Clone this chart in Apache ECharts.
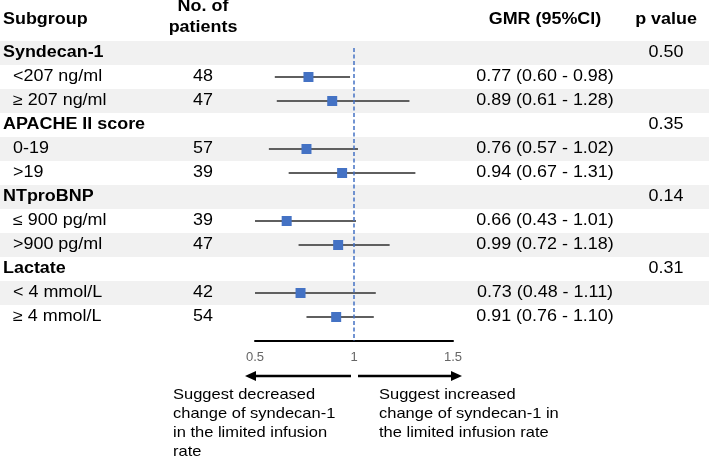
<!DOCTYPE html>
<html><head><meta charset="utf-8">
<script src="https://cdn.jsdelivr.net/npm/echarts@6/dist/echarts.min.js"></script>
<style>html,body{margin:0;padding:0;background:#fff}#c{width:709px;height:458px}</style>
</head><body><div id="c"></div>
<script>
// ---- data ----
const rowLabels = ['Syndecan-1', '<207 ng/ml', '\u2265 207 ng/ml', 'APACHE II score', '0-19', '>19',
  'NTproBNP', '\u2264 900 pg/ml', '>900 pg/ml', 'Lactate', '< 4 mmol/L', '\u2265 4 mmol/L'];
const isGroup = [true, false, false, true, false, false, true, false, false, true, false, false];
const patients = ['', '48', '47', '', '57', '39', '', '39', '47', '', '42', '54'];
const gmrText = ['', '0.77 (0.60 - 0.98)', '0.89 (0.61 - 1.28)', '', '0.76 (0.57 - 1.02)', '0.94 (0.67 - 1.31)',
  '', '0.66 (0.43 - 1.01)', '0.99 (0.72 - 1.18)', '', '0.73 (0.48 - 1.11)', '0.91 (0.76 - 1.10)'];
const pValues = ['0.50', '', '', '0.35', '', '', '0.14', '', '', '0.31', '', ''];
const estimate = [null, 0.77, 0.89, null, 0.76, 0.94, null, 0.66, 0.92, null, 0.73, 0.91];
const lower = [null, 0.60, 0.61, null, 0.57, 0.67, null, 0.43, 0.72, null, 0.48, 0.76];
const upper = [null, 0.98, 1.28, null, 1.02, 1.31, null, 1.01, 1.18, null, 1.11, 1.10];
const xTicks = [0.5, 1, 1.5];
const headers = { subgroup: 'Subgroup', patients: 'No. of\npatients', gmr: 'GMR (95%CI)', p: 'p value' };
const noteLeft = 'Suggest decreased\nchange of syndecan-1\nin the limited infusion\nrate';
const noteRight = 'Suggest increased\nchange of syndecan-1 in\nthe limited infusion rate';
const refValue = 1;

// ---- layout / style ----
const FONT = "'Liberation Sans', Arial, Helvetica, sans-serif";
const SX = 1.12;
const xMin = xTicks[0], xMax = xTicks[xTicks.length - 1];
const nRows = rowLabels.length;
const ROW_H = 24, TABLE_TOP = 41;
const PLOT_TOP = 48, AXIS_Y = 341;
const rowMin = -((TABLE_TOP + ROW_H / 2) - PLOT_TOP) / ROW_H;
const rowMax = (AXIS_Y - (TABLE_TOP + ROW_H / 2)) / ROW_H;

const forestData = [];
for (let i = 0; i < nRows; i++) {
  if (estimate[i] != null) forestData.push([estimate[i], lower[i], upper[i], i]);
}

const chart = echarts.init(document.getElementById('c'), null, { renderer: 'canvas' });
chart.setOption({
  animation: false,
  backgroundColor: '#fff',
  grid: [
    { left: 0, right: 0, top: TABLE_TOP, height: ROW_H * nRows },
    { left: 255, width: 198, top: PLOT_TOP, height: AXIS_Y - PLOT_TOP }
  ],
  xAxis: [
    { gridIndex: 0, type: 'value', min: 0, max: 1, show: false },
    { gridIndex: 1, type: 'value', min: xMin, max: xMax, interval: 0.5, position: 'bottom',
      axisLine: { show: true, onZero: false, lineStyle: { color: '#000', width: 2 } },
      axisTick: { show: false }, splitLine: { show: false },
      axisLabel: { color: '#666', fontSize: 13, fontFamily: FONT, margin: 10,
        formatter: v => String(v) } }
  ],
  yAxis: [
    { gridIndex: 0, type: 'category', data: rowLabels, inverse: true,
      axisLine: { show: false }, axisTick: { show: false }, axisLabel: { show: false },
      splitLine: { show: false },
      splitArea: { show: true, areaStyle: { color: ['#f1f1f1', '#ffffff'] } } },
    { gridIndex: 1, type: 'value', inverse: true, min: rowMin, max: rowMax, show: false }
  ],
  series: [{
    type: 'custom',
    xAxisIndex: 1, yAxisIndex: 1,
    data: forestData,
    encode: { x: [0, 1, 2], y: 3 },
    renderItem: function (params, api) {
      const est = api.value(0), lo = api.value(1), hi = api.value(2), row = api.value(3);
      const pE = api.coord([est, row]);
      const pL = api.coord([Math.max(lo, xMin), row]);
      const pH = api.coord([Math.min(hi, xMax), row]);
      return { type: 'group', children: [
        { type: 'line', shape: { x1: pL[0], y1: pL[1], x2: pH[0], y2: pH[1] },
          style: { stroke: '#5f5f5f', lineWidth: 2 } },
        { type: 'rect', shape: { x: pE[0] - 5, y: pE[1] - 5, width: 10, height: 10 },
          style: { fill: '#4472C4' } }
      ] };
    },
    markLine: { silent: true, symbol: 'none', label: { show: false },
      lineStyle: { color: '#4472C4', type: [4, 2.5], width: 1.5 },
      data: [{ xAxis: refValue }] },
    z: 3
  }]
});

// ---- table text ----
function txt(x, y, text, o) {
  o = o || {};
  const st = {
    text: text, fill: o.color || '#000',
    fontSize: o.size || 16, fontFamily: FONT, fontWeight: o.bold ? 'bold' : 'normal',
    align: o.align || 'left', textAlign: o.align || 'left',
    verticalAlign: o.va || 'middle', textVerticalAlign: o.va || 'middle'
  };
  if (o.lh) st.lineHeight = o.lh;
  return { type: 'text', x: x, y: y, scaleX: o.sx || SX, silent: true, z: 10, style: st };
}
const els = [];
const COL_LABEL = 3, COL_INDENT = 13, COL_N = 203, COL_GMR = 545, COL_P = 666;
els.push(txt(COL_LABEL, 20, headers.subgroup, { bold: true }));
const hp = headers.patients.split('\n');
els.push(txt(COL_N, 7, hp[0], { bold: true, align: 'center' }));
els.push(txt(COL_N, 28, hp[1], { bold: true, align: 'center' }));
els.push(txt(COL_GMR, 20, headers.gmr, { bold: true, align: 'center' }));
els.push(txt(COL_P, 20, headers.p, { bold: true, align: 'center' }));
for (let i = 0; i < nRows; i++) {
  const y = chart.convertToPixel({ yAxisIndex: 0 }, i);
  els.push(txt(isGroup[i] ? COL_LABEL : COL_INDENT, y, rowLabels[i], { bold: isGroup[i] }));
  if (patients[i]) els.push(txt(COL_N, y, patients[i], { align: 'center' }));
  if (gmrText[i]) els.push(txt(COL_GMR, y, gmrText[i], { align: 'center' }));
  if (pValues[i]) els.push(txt(COL_P, y, pValues[i], { align: 'center' }));
}
// arrows
const AY = 376;
function arrow(x1, x2) {
  const dir = Math.sign(x2 - x1);
  const base = x2 - dir * 11;
  return [
    { type: 'line', silent: true, shape: { x1: x1, y1: AY, x2: base, y2: AY }, style: { stroke: '#000', lineWidth: 2.5 } },
    { type: 'polygon', silent: true, shape: { points: [[x2, AY], [base, AY - 5], [base, AY + 5]] }, style: { fill: '#000' } }
  ];
}
els.push(...arrow(351, 245), ...arrow(358, 462));
els.push(txt(173, 386, noteLeft, { size: 15, va: 'top', lh: 18.7, sx: 1.1 }));
els.push(txt(379, 386, noteRight, { size: 15, va: 'top', lh: 18.7, sx: 1.1 }));
chart.setOption({ graphic: { elements: els } });
</script>
</body></html>
